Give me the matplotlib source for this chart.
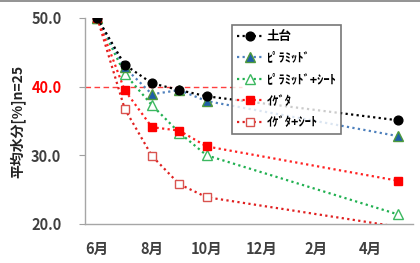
import matplotlib
matplotlib.use("Agg")
import matplotlib.pyplot as plt
import matplotlib.lines as mlines

plt.rcParams['font.family'] = ['Noto Sans CJK JP', 'DejaVu Sans']

months = [0, 1, 2, 3, 4, 11]
tick_pos = [0, 2, 4, 6, 8, 10]
tick_labels = ['6月', '8月', '10月', '12月', '2月', '4月']

dodai = [50.0, 43.2, 40.5, 39.5, 38.6, 35.1]
pyramid = [50.0, 42.8, 38.9, 39.5, 37.9, 32.8]
pyramid_sheet = [50.0, 41.9, 37.3, 33.3, 30.0, 21.4]
igeta = [50.0, 39.5, 34.1, 33.6, 31.3, 26.3]
igeta_sheet = [50.0, 36.8, 29.9, 25.8, 23.9, 19.6]

labels = ['土台', 'ﾋﾟﾗﾐｯﾄﾞ', 'ﾋﾟﾗﾐｯﾄﾞ+ｼｰﾄ', 'ｲｹﾞﾀ', 'ｲｹﾞﾀ+ｼｰﾄ']

fig = plt.figure(figsize=(4.2, 2.63), dpi=100)
ax = fig.add_axes([85/420, 1-224/263, (413-85)/420, (224-18)/263])

dot = (0, (1, 1.5))
ax.plot([-0.45, 5.3], [40, 40], color='#FF4040', linestyle=(0, (4, 2.5)), linewidth=1.0, zorder=1)

ms = 6.3
ax.plot(months, dodai, color='black', linestyle=dot, linewidth=1.6, marker='o', markersize=ms,
        markerfacecolor='black', markeredgecolor='black', label=labels[0], zorder=5)
ax.plot(months, pyramid, color='#4F81BD', linestyle=dot, linewidth=1.6, marker='^', markersize=ms+0.5,
        markerfacecolor='#1F5FA8', markeredgecolor='#4E9A3C', label=labels[1], zorder=4)
ax.plot(months, pyramid_sheet, color='#20B050', linestyle=dot, linewidth=1.6, marker='^', markersize=ms+0.5,
        markerfacecolor='white', markeredgecolor='#3CB860', label=labels[2], zorder=3)
ax.plot(months, igeta, color='#FF2020', linestyle=dot, linewidth=1.6, marker='s', markersize=ms,
        markerfacecolor='#FF0000', markeredgecolor='#FF0000', label=labels[3], zorder=4)
ax.plot(months, igeta_sheet, color='#E02020', linestyle=dot, linewidth=1.6, marker='s', markersize=ms,
        markerfacecolor='white', markeredgecolor='#D9534F', label=labels[4], zorder=3,
        markevery=slice(0, 5))

ax.set_xlim(-0.45, 11.55)
ax.set_ylim(20, 50)
ax.set_xticks(tick_pos)
ax.set_xticklabels(tick_labels)
ax.set_yticks([20, 30, 40, 50])
ax.set_yticklabels(['20.0', '30.0', '40.0', '50.0'])
for t in ax.get_yticklabels():
    if t.get_text() == '40.0':
        t.set_color('#FF0000')
    else:
        t.set_color('#404040')
for t in ax.get_xticklabels():
    t.set_color('#404040')
ax.tick_params(axis='x', labelsize=10.5, length=0, pad=12.5)
ax.tick_params(axis='y', labelsize=10.5, length=4, color='#A0A0A0', direction='out', pad=13)
for t in ax.get_xticklabels() + ax.get_yticklabels():
    t.set_fontweight('bold')

ax.spines['top'].set_visible(False)
ax.spines['right'].set_visible(False)
ax.spines['left'].set_color('#A6A6A6')
ax.spines['bottom'].set_color('#A6A6A6')
ax.spines['left'].set_linewidth(1.0)
ax.spines['bottom'].set_linewidth(1.0)

ax.set_ylabel('平均水分[%]n=25', fontsize=10, color='#222222', fontweight='bold', labelpad=4)

leg = ax.legend(loc='upper left', bbox_to_anchor=((232-85)/328, (224-25)/206), fontsize=9,
                frameon=True, fancybox=False, edgecolor='#555555', handlelength=2.0,
                borderpad=0.4, labelspacing=0.68, handletextpad=0.35, borderaxespad=0)
leg.get_frame().set_linewidth(1.2)
leg.set_zorder(10)
for t in leg.get_texts():
    t.set_fontweight('bold')

fig.add_artist(mlines.Line2D([0, 1], [0.998, 0.998], color='#808080', linewidth=1.2, transform=fig.transFigure))

fig.savefig('out.png', dpi=100)
